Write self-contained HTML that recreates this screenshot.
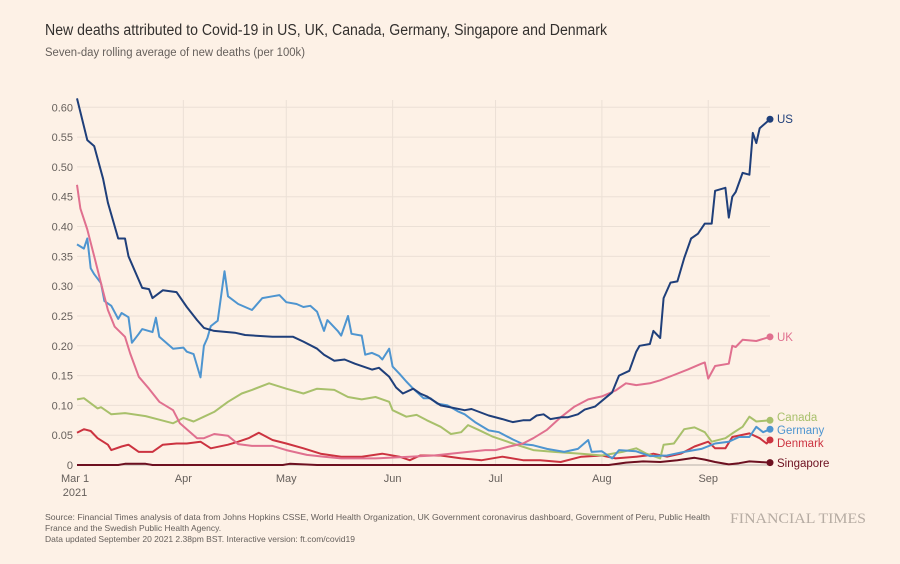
<!DOCTYPE html>
<html><head><meta charset="utf-8"><style>
html,body{margin:0;padding:0;background:#fdf1e6;}
body{width:900px;height:559px;overflow:hidden;font-family:"Liberation Sans",sans-serif;}
</style></head><body>
<svg id="chart" width="900" height="559" xmlns="http://www.w3.org/2000/svg" style="font-family:'Liberation Sans',sans-serif">
<rect width="900" height="559" fill="#fdf1e6"/>
<text x="45" y="35" font-size="15.5" fill="#33302e" textLength="562" lengthAdjust="spacingAndGlyphs">New deaths attributed to Covid-19 in US, UK, Canada, Germany, Singapore and Denmark</text>
<text x="45" y="56" font-size="11.5" fill="#66605c" textLength="260" lengthAdjust="spacingAndGlyphs">Seven-day rolling average of new deaths (per 100k)</text>
<g id="grid"></g>
<g id="yaxis"></g>
<g id="xaxis"></g>
<g id="series"></g>
<g id="labels"></g>
<text x="45" y="520" font-size="8.5" fill="#66605c" textLength="665" lengthAdjust="spacingAndGlyphs">Source: Financial Times analysis of data from Johns Hopkins CSSE, World Health Organization, UK Government coronavirus dashboard, Government of Peru, Public Health</text>
<text x="45" y="531" font-size="8.5" fill="#66605c">France and the Swedish Public Health Agency.</text>
<text x="45" y="542" font-size="8.5" fill="#66605c">Data updated September 20 2021 2.38pm BST. Interactive version: ft.com/covid19</text>
<text x="730" y="523" font-size="15" fill="#b6aca3" font-family="'Liberation Serif',serif" textLength="136" lengthAdjust="spacingAndGlyphs">FINANCIAL TIMES</text>
</svg>
<script>
const yTicks=[0,0.05,0.10,0.15,0.20,0.25,0.30,0.35,0.40,0.45,0.50,0.55,0.60];
const yTickLabels=["0","0.05","0.10","0.15","0.20","0.25","0.30","0.35","0.40","0.45","0.50","0.55","0.60"];
const monthDays=[0,31,61,92,122,153,184];
const monthLabels=["Mar 1","Apr","May","Jun","Jul","Aug","Sep"];
const usDays=[0,3,5,7.6,9,12,14,15,19,21,22,25,29,32,35,37,40,46,49,57,63,66,70,72,75,78,81,86,88,91,93,95,98,100,102,106,113,115,120,124,127,130,132,134,136,138,141,143,146,148,151,156,158,161,163,164,167,168,170,171,173,175,177,179,181,183,185,186,189,190,191,192,194,196,197,198,199,202];
const usVals=[0.615,0.545,0.535,0.48,0.44,0.38,0.38,0.35,0.297,0.295,0.28,0.293,0.29,0.265,0.243,0.23,0.225,0.222,0.218,0.215,0.215,0.207,0.195,0.185,0.175,0.177,0.17,0.16,0.163,0.148,0.13,0.12,0.128,0.12,0.115,0.10,0.092,0.094,0.083,0.077,0.072,0.075,0.075,0.083,0.085,0.077,0.08,0.08,0.085,0.093,0.098,0.122,0.15,0.158,0.19,0.2,0.203,0.225,0.213,0.28,0.306,0.308,0.347,0.38,0.388,0.405,0.405,0.46,0.465,0.415,0.45,0.458,0.49,0.487,0.557,0.54,0.565,0.58];
const ukDays=[0,1,3,5,7,9,11,14,15.5,18,21,24,28,30,33,35,37,40,44,47,51,57,61,67,72,77,87,94,104,114,119,122,126,130,133,137,141,145,149,153,157,160,163,167,170,174,178,182,183,184,186,190,191,192,194,198,202];
const ukVals=[0.47,0.43,0.395,0.35,0.305,0.26,0.232,0.215,0.187,0.148,0.128,0.106,0.092,0.07,0.055,0.045,0.045,0.052,0.049,0.035,0.032,0.032,0.025,0.017,0.014,0.011,0.011,0.013,0.016,0.022,0.025,0.025,0.031,0.036,0.045,0.059,0.08,0.098,0.11,0.115,0.125,0.137,0.134,0.137,0.142,0.151,0.16,0.17,0.172,0.145,0.166,0.17,0.2,0.198,0.21,0.208,0.215];
const deDays=[0,2,3,4,5,7,8,10,12,13,15,16,18,19,22,23,24,26,28,31,32,34,36,37,38,39,41,43,44,47,51,54,57,59,61,64,66,68,70,72,73,76,77,79,80,83,84,86,88,89,91,92,94,96,98,101,103,105,108,111,113,116,120,123,127,130,133,137,142,146,149,150,153,156,158,163,167,172,177,182,186,190,193,196,198,200,202];
const deVals=[0.37,0.363,0.38,0.33,0.32,0.305,0.275,0.267,0.245,0.255,0.248,0.205,0.22,0.228,0.223,0.247,0.215,0.205,0.195,0.197,0.19,0.186,0.147,0.2,0.213,0.233,0.242,0.325,0.283,0.27,0.26,0.28,0.283,0.285,0.273,0.27,0.265,0.267,0.257,0.225,0.243,0.225,0.217,0.25,0.22,0.217,0.185,0.188,0.183,0.177,0.195,0.165,0.153,0.14,0.128,0.112,0.112,0.103,0.1,0.09,0.085,0.072,0.058,0.055,0.043,0.035,0.033,0.027,0.022,0.027,0.042,0.022,0.023,0.011,0.025,0.023,0.015,0.016,0.022,0.027,0.036,0.039,0.047,0.047,0.064,0.055,0.06];
const caDays=[0,2,6,7,10,14,20,24,28,31,34,37,40,44,48,51,56,61,66,70,75,79,83,87,91,92,96,99,102,106,109,112,114,117,121,127,133,139,147,153,159,163,166,170,171,174,177,180,183,185,189,191,194,196,198,202];
const caVals=[0.11,0.112,0.095,0.097,0.085,0.087,0.082,0.076,0.07,0.079,0.073,0.081,0.089,0.106,0.12,0.126,0.137,0.128,0.12,0.128,0.126,0.114,0.11,0.114,0.106,0.092,0.081,0.084,0.075,0.064,0.052,0.055,0.067,0.059,0.048,0.036,0.025,0.022,0.019,0.016,0.022,0.028,0.019,0.011,0.034,0.036,0.06,0.063,0.055,0.039,0.045,0.053,0.064,0.081,0.073,0.075];
const dkDays=[0,2,4,6,9,10,13,15,18,22,25,29,32,36,39,44,47,50,53,57,61,66,71,77,83,89,94,97,100,106,112,118,124,130,135,141,147,153,157,163,166,168,172,176,180,184,186,189,191,196,199,201,202];
const dkVals=[0.054,0.06,0.057,0.045,0.034,0.025,0.031,0.034,0.022,0.022,0.034,0.036,0.036,0.039,0.028,0.034,0.039,0.045,0.054,0.042,0.036,0.028,0.019,0.014,0.014,0.019,0.014,0.008,0.016,0.016,0.011,0.008,0.014,0.008,0.008,0.005,0.014,0.016,0.011,0.014,0.016,0.019,0.014,0.019,0.031,0.039,0.028,0.028,0.047,0.053,0.045,0.036,0.042];
const sgDays=[0,12,14,20,22,40,60,62,70,90,120,140,155,160,165,170,175,180,183,186,190,193,196,199,202];
const sgVals=[0,0,0.002,0.002,0,0,0,0.002,0,0,0,0,0,0.004,0.006,0.005,0.008,0.012,0.009,0.005,0.001,0.003,0.006,0.005,0.004];
const seriesNames=["Singapore","Denmark","Canada","Germany","UK","US"];
const seriesColors=["#6d1020","#cc3340","#a8c06b","#4e95d0","#e0708f","#1f3f7a"];
const seriesDays=[sgDays,dkDays,caDays,deDays,ukDays,usDays];
const seriesVals=[sgVals,dkVals,caVals,deVals,ukVals,usVals];
const labelY=[463,443,417,430,337,119];

const NS="http://www.w3.org/2000/svg";
const X0=77,X1=770,D1=202,Y0=465,Y1=107.3,V1=0.60;
function xs(d){return X0+d*(X1-X0)/D1;}
function ys(v){return Y0-(v/V1)*(Y0-Y1);}
function mk(tag,attrs,parent){const e=document.createElementNS(NS,tag);for(const k in attrs)e.setAttribute(k,attrs[k]);parent.appendChild(e);return e;}
const grid=document.getElementById('grid'),ya=document.getElementById('yaxis'),xa=document.getElementById('xaxis'),sg=document.getElementById('series'),lb=document.getElementById('labels');
yTicks.forEach((t,i)=>{
  const l=mk('line',{x1:X0,x2:X1,y1:ys(t),y2:ys(t),stroke:t===0?'#b8b0a8':'#ebe0d6','stroke-width':1},grid);
  
  
  const tx=mk('text',{x:73,y:ys(t)+4,'font-size':11,fill:'#66605c','text-anchor':'end'},ya);
  tx.textContent=yTickLabels[i];
  
  
});
monthDays.forEach((d,i)=>{
  if(i>0){const l=mk('line',{x1:xs(d),x2:xs(d),y1:100,y2:Y0,stroke:'#ebe0d6','stroke-width':1},grid);
  
  }
  const tx=mk('text',{x:xs(d)+(i===0?-2:0),y:482,'font-size':11,fill:'#66605c','text-anchor':'middle'},xa);
  tx.textContent=monthLabels[i];
  
  
});
const yr=mk('text',{x:xs(0)-2,y:496,'font-size':11,fill:'#66605c','text-anchor':'middle'},xa);
yr.textContent="2021";


seriesNames.forEach((n,i)=>{
  const ds=seriesDays[i],vs=seriesVals[i];
  const pts=ds.map((d,j)=>xs(d).toFixed(1)+','+ys(vs[j]).toFixed(1)).join(' ');
  const p=mk('polyline',{points:pts,fill:'none',stroke:seriesColors[i],'stroke-width':2,'stroke-linejoin':'round'},sg);
  
  
  const last=ds.length-1;
  const c=mk('circle',{cx:xs(ds[last]),cy:ys(vs[last]),r:3.5,fill:seriesColors[i]},sg);
  
  
  const t=mk('text',{x:777,y:labelY[i]+4,'font-size':11.5,fill:seriesColors[i]},lb);
  t.textContent=n;
  
  
});
</script>
</body></html>
